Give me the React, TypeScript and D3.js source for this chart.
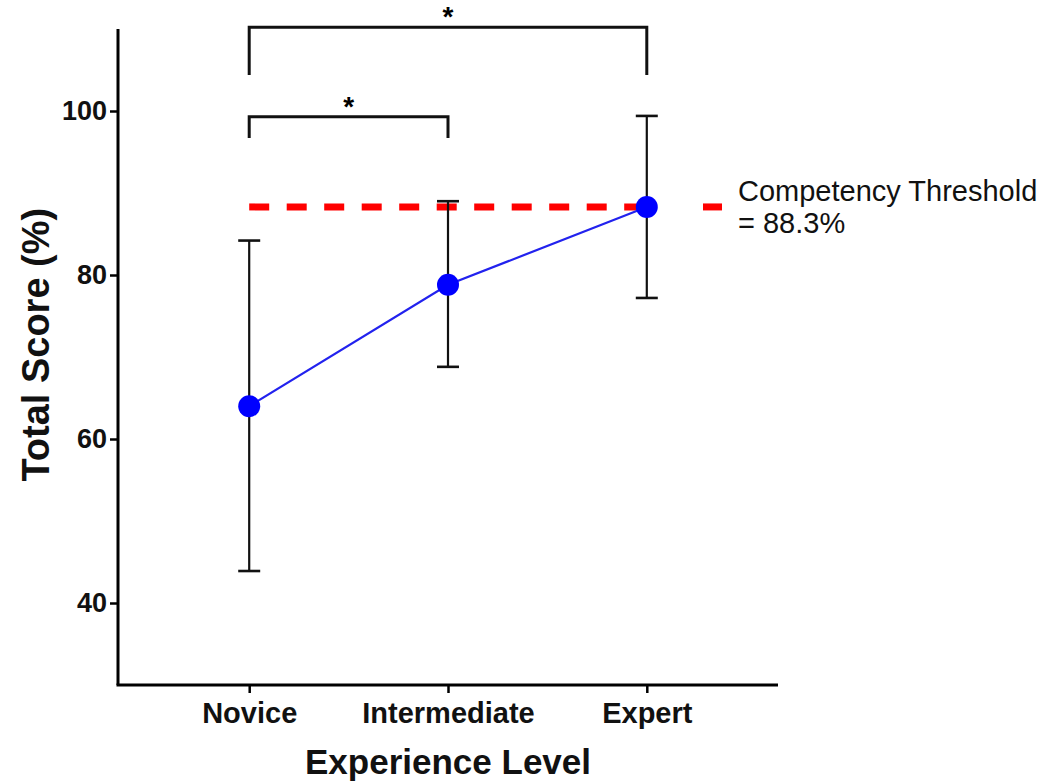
import React, { useEffect, useRef } from "react";
import * as d3 from "d3";

const levels: string[] = ["Novice", "Intermediate", "Expert"];
const meanScore: number[] = [64.0, 78.8, 88.3];
const upperBound: number[] = [84.2, 89.0, 99.4];
const lowerBound: number[] = [43.9, 68.8, 77.2];
const yTicks: number[] = [40, 60, 80, 100];
const threshold = 88.3;

// significance brackets: [from, to, bar level, leg end level]
const comparisons: any[] = [
  { from: "Novice", to: "Expert", level: 110.2, legEnd: 104.4, label: "*" },
  { from: "Novice", to: "Intermediate", level: 99.3, legEnd: 96.7, label: "*" },
];

const FONT = "'Liberation Sans', Arial, Helvetica, sans-serif";

function createChart(node: SVGSVGElement) {
  const svg = d3.select(node);
  svg.selectAll("*").remove();

  const left = 118,
    right = 778,
    top = 29,
    bottom = 685;

  const x = d3.scalePoint<string>().domain(levels).range([left, right]).padding(0.66);
  const y = d3.scaleLinear().domain([30, 110]).range([bottom, top]);

  const rows = levels.map((l, i) => ({
    level: l,
    mean: meanScore[i],
    hi: upperBound[i],
    lo: lowerBound[i],
  }));

  // threshold dashed line
  svg
    .append("line")
    .attr("x1", x("Novice") as number)
    .attr("x2", x("Expert") as number)
    .attr("y1", y(threshold))
    .attr("y2", y(threshold))
    .attr("stroke", "#ff0000")
    .attr("stroke-width", 7)
    .attr("stroke-dasharray", "20,17.5");

  // legend dash + label
  svg
    .append("line")
    .attr("x1", 703)
    .attr("x2", 722)
    .attr("y1", y(threshold))
    .attr("y2", y(threshold))
    .attr("stroke", "#ff0000")
    .attr("stroke-width", 7);

  const legendText = svg
    .append("text")
    .attr("x", 738)
    .attr("y", 201)
    .attr("font-family", FONT)
    .attr("font-size", 29)
    .attr("fill", "#111");
  legendText.append("tspan").attr("x", 738).text("Competency Threshold");
  legendText.append("tspan").attr("x", 738).attr("dy", 32).text("= 88.3%");

  // error bars
  const eb = svg.append("g").attr("stroke", "#111").attr("stroke-width", 2.2);
  eb.selectAll("line.v")
    .data(rows)
    .enter()
    .append("line")
    .attr("class", "v")
    .attr("x1", (d) => x(d.level) as number)
    .attr("x2", (d) => x(d.level) as number)
    .attr("y1", (d) => y(d.hi))
    .attr("y2", (d) => y(d.lo));
  ["hi", "lo"].forEach((k) => {
    eb.selectAll("line.c" + k)
      .data(rows)
      .enter()
      .append("line")
      .attr("class", "c" + k)
      .attr("x1", (d) => (x(d.level) as number) - 11)
      .attr("x2", (d) => (x(d.level) as number) + 11)
      .attr("y1", (d: any) => y(d[k]))
      .attr("y2", (d: any) => y(d[k]))
      .attr("stroke-width", 2.6);
  });

  // mean line
  const line = d3
    .line<any>()
    .x((d) => x(d.level) as number)
    .y((d) => y(d.mean));
  svg
    .append("path")
    .datum(rows)
    .attr("d", line)
    .attr("fill", "none")
    .attr("stroke", "#2222ee")
    .attr("stroke-width", 2.2);

  svg
    .selectAll("circle.pt")
    .data(rows)
    .enter()
    .append("circle")
    .attr("class", "pt")
    .attr("cx", (d) => x(d.level) as number)
    .attr("cy", (d) => y(d.mean))
    .attr("r", 11)
    .attr("fill", "#0000ff");

  // brackets
  comparisons.forEach((c) => {
    const x1 = x(c.from) as number,
      x2 = x(c.to) as number;
    svg
      .append("path")
      .attr("d", `M${x1},${y(c.legEnd)}V${y(c.level)}H${x2}V${y(c.legEnd)}`)
      .attr("fill", "none")
      .attr("stroke", "#111")
      .attr("stroke-width", 3);
    svg
      .append("text")
      .attr("x", (x1 + x2) / 2)
      .attr("y", y(c.level) - 1)
      .attr("text-anchor", "middle")
      .attr("font-family", FONT)
      .attr("font-weight", "bold")
      .attr("font-size", 28)
      .text(c.label);
  });

  // y axis
  const yAxis = svg
    .append("g")
    .attr("transform", `translate(${left},0)`)
    .call(d3.axisLeft(y).tickValues(yTicks).tickSize(8).tickPadding(3).tickSizeOuter(0));
  yAxis.select(".domain").attr("stroke-width", 3).attr("d", `M0,${top}V${bottom}`);
  yAxis.selectAll(".tick line").attr("stroke-width", 2.5);
  yAxis
    .selectAll(".tick text")
    .attr("font-family", FONT)
    .attr("font-weight", "bold")
    .attr("font-size", 27)
    .attr("fill", "#111");

  // x axis
  const xAxis = svg
    .append("g")
    .attr("transform", `translate(0,${bottom})`)
    .call(d3.axisBottom(x).tickSize(8).tickPadding(9).tickSizeOuter(0));
  xAxis.select(".domain").attr("stroke-width", 3).attr("d", `M${left - 1.5},0H${right}`);
  xAxis.selectAll(".tick line").attr("stroke-width", 2.5);
  xAxis
    .selectAll(".tick text")
    .attr("font-family", FONT)
    .attr("font-weight", "bold")
    .attr("font-size", 29)
    .attr("fill", "#111");

  // axis titles
  svg
    .append("text")
    .attr("transform", `translate(49,${y(71.5)}) rotate(-90)`)
    .attr("text-anchor", "middle")
    .attr("font-family", FONT)
    .attr("font-weight", "bold")
    .attr("font-size", 38)
    .attr("fill", "#111")
    .text("Total Score (%)");

  svg
    .append("text")
    .attr("x", x("Intermediate") as number)
    .attr("y", 774)
    .attr("text-anchor", "middle")
    .attr("font-family", FONT)
    .attr("font-weight", "bold")
    .attr("font-size", 35)
    .attr("fill", "#111")
    .text("Experience Level");
}

export default function App() {
  const ref = useRef<SVGSVGElement>(null);
  useEffect(() => {
    document.body.style.margin = "0";
    if (ref.current) createChart(ref.current);
  }, []);
  return (
    <div>
      <svg ref={ref} width={1046} height={781} style={{ display: "block", background: "#fff" }} />
    </div>
  );
}
